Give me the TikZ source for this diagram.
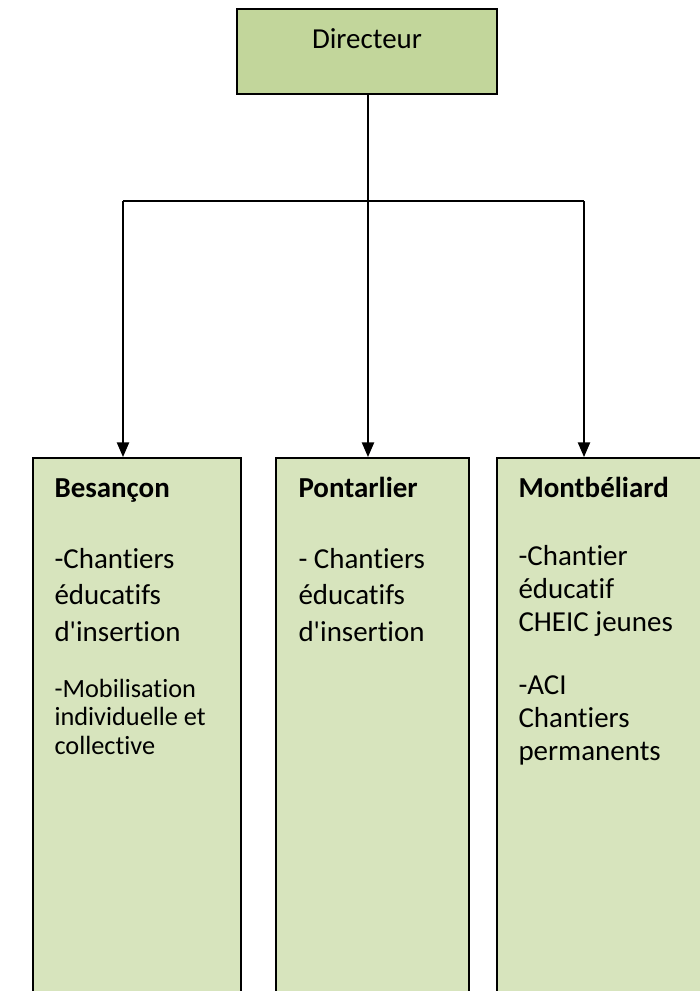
\documentclass[tikz,border=0pt]{standalone}
\usepackage{fontspec}
\setmainfont{Carlito}[Ligatures={NoCommon}]
\usetikzlibrary{arrows.meta, fit}
\definecolor{headgreen}{HTML}{C2D69B}
\definecolor{sitegreen}{HTML}{D7E4BD}

\begin{document}
\begin{tikzpicture}[
    x=0.38pt, y=-0.38pt,
    headbox/.style={draw, line width=0.8pt, fill=headgreen, inner sep=0pt},
    sitebox/.style={draw, line width=0.7pt, fill=sitegreen, inner sep=0pt},
    sitetext/.style={anchor=base west, inner sep=0pt, align=flush left, text width=68pt, font=\fontsize{11}{13.9}\selectfont},
    tighttext/.style={sitetext, font=\fontsize{11}{12.7}\selectfont},
    smalltext/.style={sitetext, font=\fontsize{10}{10.9}\selectfont},
    line/.style={line width=0.75pt},
    arrow/.style={line, -{Triangle[width=4.6pt, length=5.6pt]}}
]
\useasboundingbox (0,0) rectangle (700,991);

% boxes
\node[headbox, fit={(237,9) (497,94)}] (dir) {};
\node[anchor=base, font=\fontsize{11}{13.7}\selectfont] (dirlabel) at (367,48) {Directeur};

\node[sitebox, fit={(33,458) (241,1010)}] (besancon) {};
\node[sitebox, fit={(276,458) (469,1010)}] (pontarlier) {};
\node[sitebox, fit={(497,458) (712,1010)}] (montbeliard) {};

% texts
\node[sitetext] (besancon title) at (54,497.7) {\textbf{Besançon}};
\node[sitetext] (besancon cei) at (54,568) {-Chantiers\\éducatifs\\d\textquotesingle insertion};
\node[smalltext] (besancon mob) at (54,697) {-Mobilisation\\individuelle et\\collective};

\node[sitetext] (pontarlier title) at (298,497.7) {\textbf{Pontarlier}};
\node[sitetext] (pontarlier cei) at (298,568) {- Chantiers\\éducatifs\\d\textquotesingle insertion};

\node[sitetext] (montbeliard title) at (518,497.7) {\textbf{Montbéliard}};
\node[tighttext] (montbeliard cei) at (518,565) {-Chantier\\éducatif\\CHEIC jeunes};
\node[tighttext] (montbeliard aci) at (518,694) {-ACI\\Chantiers\\permanents};

% connectors
\coordinate (hub) at (368,201);
\coordinate (westend) at (123,201);
\coordinate (eastend) at (584,201);

\draw[line] (dir.south -| hub) -- (hub);
\draw[line] (westend) -- (eastend);
\draw[arrow] (westend) -- (westend |- besancon.north);
\draw[arrow] (hub) -- (hub |- pontarlier.north);
\draw[arrow] (eastend) -- (eastend |- montbeliard.north);

\end{tikzpicture}
\end{document}
